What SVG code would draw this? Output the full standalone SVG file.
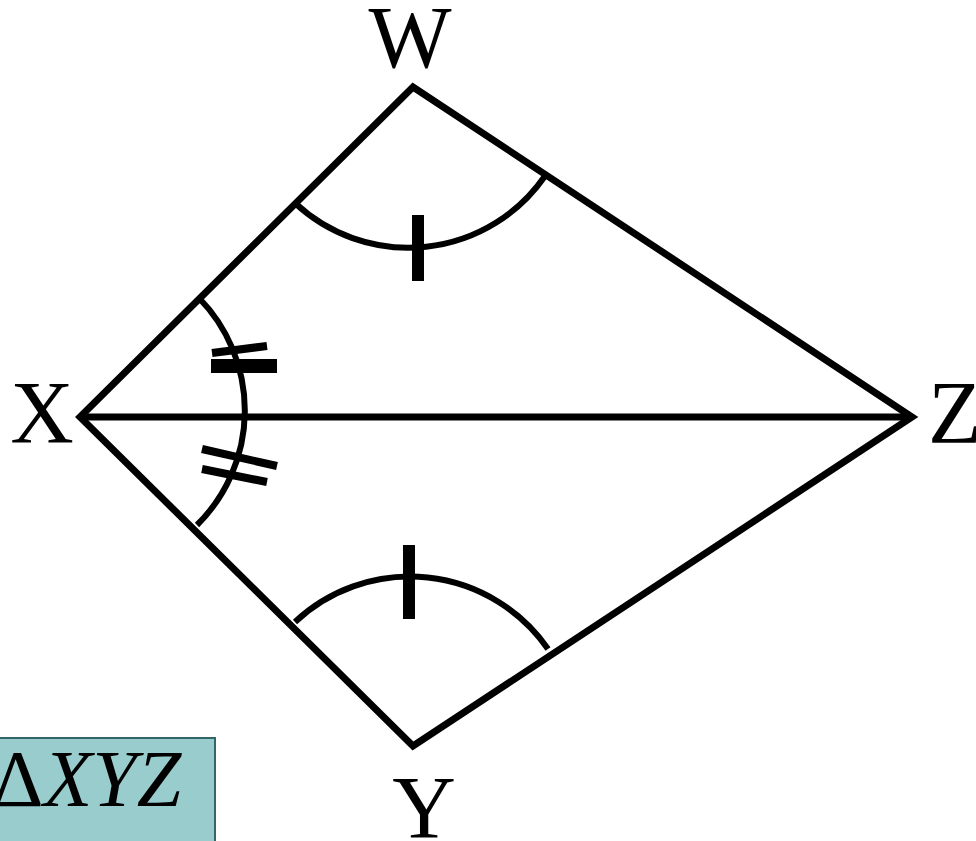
<svg xmlns="http://www.w3.org/2000/svg" width="976" height="841" viewBox="0 0 976 841">
<style>
.edge{fill:none;stroke:#000;stroke-width:7;stroke-linejoin:miter;stroke-miterlimit:10}
.arc{fill:none;stroke:#000;stroke-width:6}
.tick{stroke:#000;stroke-width:8;fill:none}
.lbl{font-family:"Liberation Serif","Times New Roman",serif;font-size:88px;fill:#000}
</style>
<rect width="976" height="841" fill="#fff"/>
<g id="connectors">
<polygon class="edge" points="80,417 413,87 912,417 413,746"/>
<line class="edge" x1="80" y1="417" x2="912" y2="417"/>
</g>
<g id="angle-W">
<path class="arc" d="M295,203 A166,166 0 0 0 545,176"/>
<line x1="418" y1="215" x2="418" y2="281" stroke="#000" stroke-width="12"/>
</g>
<g id="angle-Y">
<path class="arc" d="M295,622 A168,168 0 0 1 548,649"/>
<line x1="409" y1="545" x2="409" y2="619" stroke="#000" stroke-width="12"/>
</g>
<g id="angle-X">
<path class="arc" d="M199,298 A161,161 0 0 1 197,525"/>
<line class="tick" x1="212" y1="353" x2="267" y2="346" stroke-width="7"/>
<rect x="211" y="359" width="66" height="14" fill="#000"/>
<line class="tick" x1="202" y1="449" x2="277" y2="466"/>
<line class="tick" x1="202" y1="469" x2="267" y2="482"/>
</g>
<g id="label-W"><text class="lbl" x="410" y="67" text-anchor="middle">W</text></g>
<g id="label-X"><text class="lbl" x="42" y="442" text-anchor="middle">X</text></g>
<g id="label-Z"><text class="lbl" x="928" y="442">Z</text></g>
<g id="label-Y"><text class="lbl" x="424" y="837" text-anchor="middle">Y</text></g>
<g id="triangle-box">
<rect x="-5" y="738" width="220" height="110" fill="#99CCCC" stroke="#336666" stroke-width="2"/>
<text x="-8" y="806" font-family="'Liberation Serif','Times New Roman',serif" font-size="80" fill="#000">Δ<tspan font-style="italic">XYZ</tspan></text>
</g>
</svg>
